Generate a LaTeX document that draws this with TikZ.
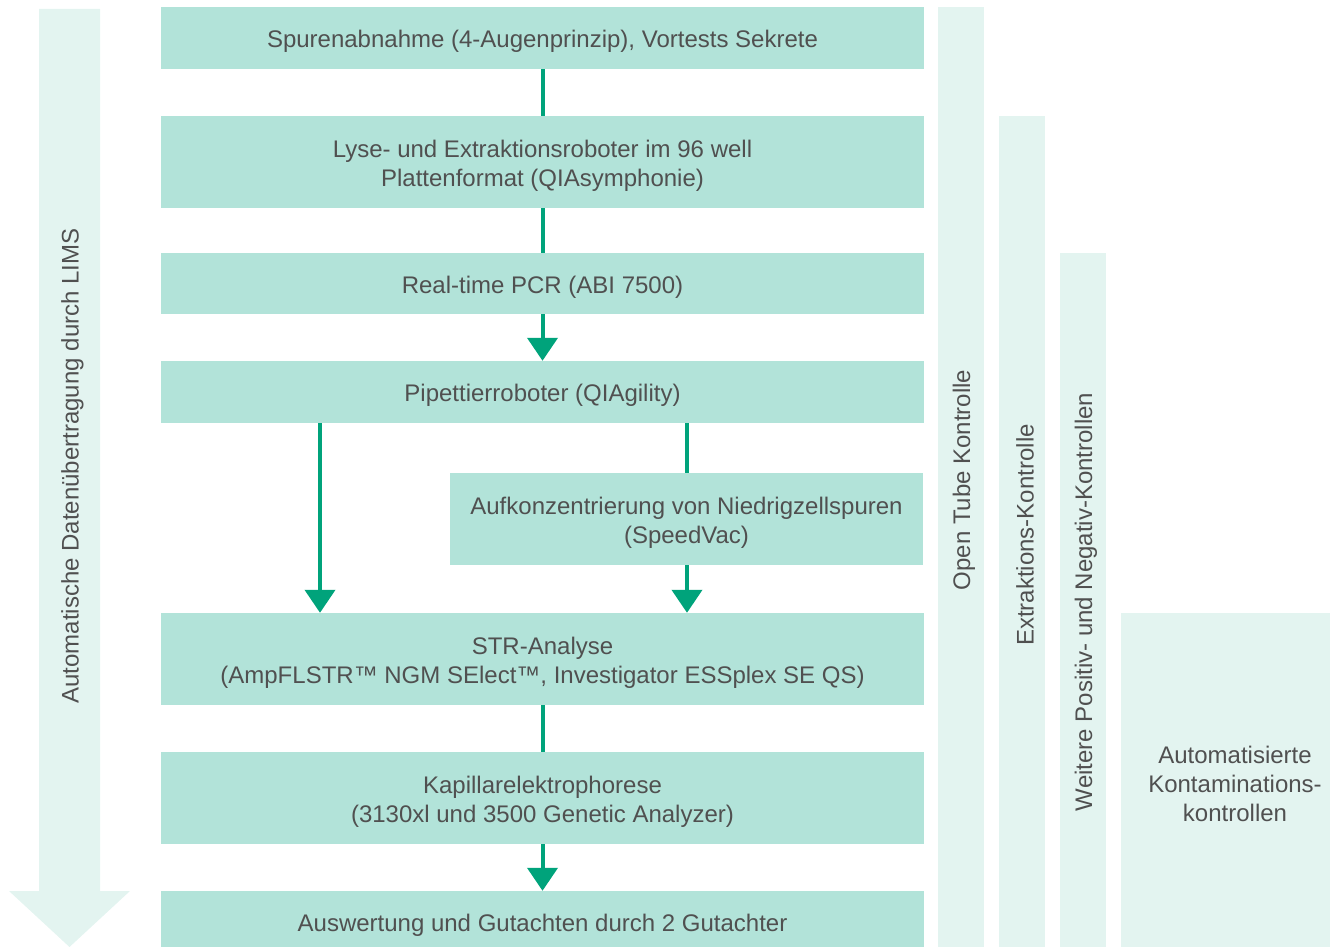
\documentclass[tikz,border=0pt]{standalone}
\usepackage{fontspec}
\setmainfont{Liberation Sans}
\usetikzlibrary{arrows.meta}
\definecolor{boxfill}{HTML}{B2E3D9}
\definecolor{lightfill}{HTML}{E3F4F0}
\definecolor{arrowcol}{HTML}{00A37B}
\definecolor{txt}{HTML}{505050}
\tikzset{
  box/.style={fill=boxfill, draw=none, minimum width=763pt, inner sep=0pt},
  boxtext/.style={text=txt, inner sep=0pt, align=center, yshift=-3.5pt},
  side/.style={fill=lightfill, draw=none, inner sep=0pt},
  sidetext/.style={text=txt, inner sep=0pt, align=center},
  conn/.style={draw=arrowcol, line width=4pt},
  arr/.style={conn, -{Triangle[width=30pt,length=23pt]}},
}
\begin{document}
\begin{tikzpicture}[x=1pt,y=-1pt, font=\fontsize{24}{29}\selectfont]
\useasboundingbox (0,0) rectangle (1330,947);
% big left arrow
\fill[lightfill] (39,9) -- (100,9) -- (100,891) -- (130,891) -- (69.5,947) -- (9,891) -- (39,891) -- cycle;
\node[sidetext, rotate=90] (lims) at (72.5,466) {Automatische Datenübertragung durch LIMS};
% side columns
\node[side, minimum width=46pt, minimum height=940pt] (c1) at (961,477) {};
\node[side, minimum width=46pt, minimum height=831pt] (c2) at (1022,531.5) {};
\node[side, minimum width=46pt, minimum height=694pt] (c3) at (1083,600) {};
\node[side, minimum width=209pt, minimum height=334pt] (c4) at (1225.5,780) {};
\node[sidetext, rotate=90] (t1) at (964,480) {Open Tube Kontrolle};
\node[sidetext, rotate=90] (t2) at (1025,535) {Extraktions-Kontrolle};
\node[sidetext, rotate=90] (t3) at (1086,602) {Weitere Positiv- und Negativ-Kontrollen};
\node[sidetext] (t4) at (1235,784) {Automatisierte\\Kontaminations-\\kontrollen};
% main boxes
\node[box, minimum height=62pt] (b1) at (542.5,38) {};
\node[box, minimum height=92pt] (b2) at (542.5,162) {};
\node[box, minimum height=61pt] (b3) at (542.5,283.5) {};
\node[box, minimum height=62pt] (b4) at (542.5,392) {};
\node[box, minimum width=473pt, minimum height=92pt] (b5) at (686.5,519) {};
\node[box, minimum height=92pt] (b6) at (542.5,659) {};
\node[box, minimum height=92pt] (b7) at (542.5,798) {};
\node[box, minimum height=56pt] (b8) at (542.5,919) {};
\node[boxtext] (b1t) at (b1) {Spurenabnahme (4-Augenprinzip), Vortests Sekrete};
\node[boxtext] (b2t) at (b2) {Lyse- und Extraktionsroboter im 96 well\\Plattenformat (QIAsymphonie)};
\node[boxtext] (b3t) at (b3) {Real-time PCR (ABI 7500)};
\node[boxtext] (b4t) at (b4) {Pipettierroboter (QIAgility)};
\node[boxtext] (b5t) at (b5) {Aufkonzentrierung von Niedrigzellspuren\\(SpeedVac)};
\node[boxtext] (b6t) at (b6) {STR-Analyse\\(AmpFLSTR™ NGM SElect™, Investigator ESSplex SE QS)};
\node[boxtext] (b7t) at (b7) {Kapillarelektrophorese\\(3130xl und 3500 Genetic Analyzer)};
\node[boxtext, yshift=-3pt] (b8t) at (b8) {Auswertung und Gutachten durch 2 Gutachter};
% connectors
\coordinate (xl) at (320,0);
\coordinate (xr) at (687,0);
\draw[conn] (b1.south) -- (b2.north);
\draw[conn] (b2.south) -- (b3.north);
\draw[arr] (b3.south) -- (b4.north);
\draw[arr] (b4.south -| xl) -- (b6.north -| xl);
\draw[conn] (b4.south -| xr) -- (b5.north -| xr);
\draw[arr] (b5.south -| xr) -- (b6.north -| xr);
\draw[conn] (b6.south) -- (b7.north);
\draw[arr] (b7.south) -- (b8.north);
\end{tikzpicture}
\end{document}
